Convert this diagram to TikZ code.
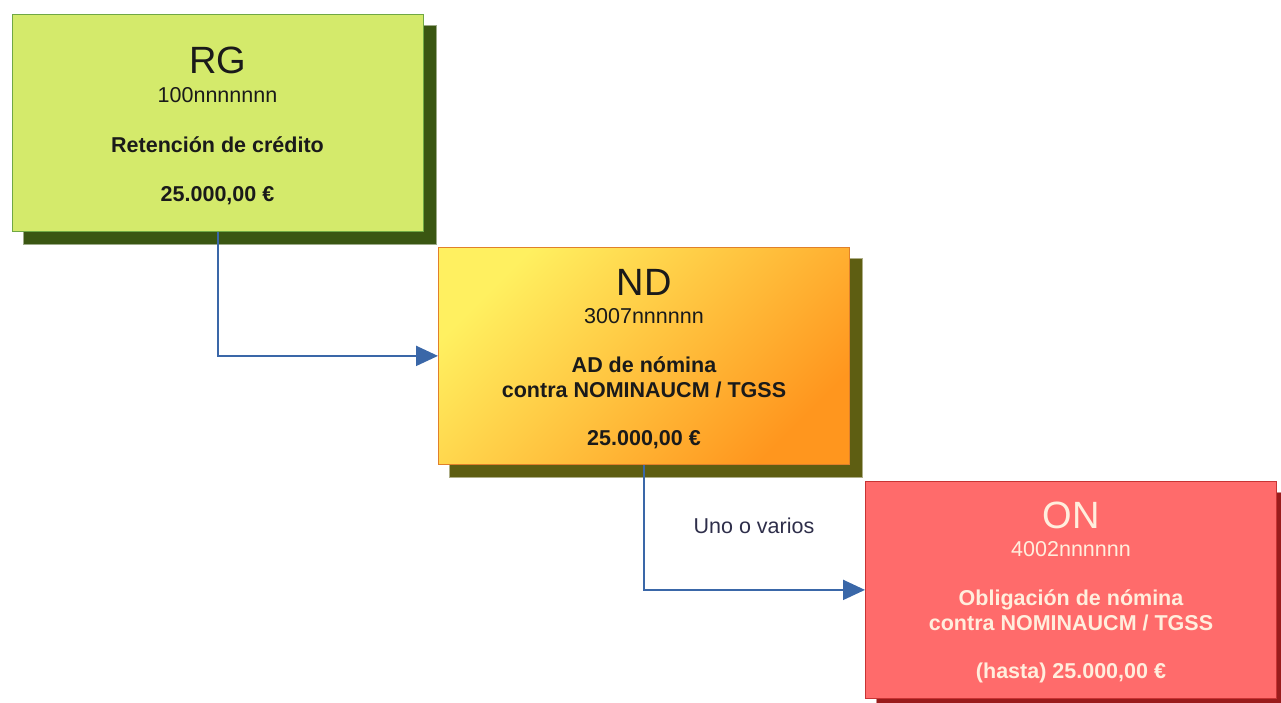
\documentclass[tikz,border=0pt]{standalone}
\usepackage{fontspec}
\setmainfont{Liberation Sans}
\usetikzlibrary{arrows.meta,calc}
\definecolor{rgfill}{HTML}{D4EA6B}
\definecolor{rgline}{HTML}{6FA844}
\definecolor{rgshadow}{HTML}{3A5612}
\definecolor{ndtop}{HTML}{FFF060}
\definecolor{ndbot}{HTML}{FF961E}
\definecolor{ndline}{HTML}{E0802A}
\definecolor{ndshadow}{HTML}{5E5E12}
\definecolor{onfill}{HTML}{FF6B6B}
\definecolor{online}{HTML}{C83434}
\definecolor{onshadow}{HTML}{9A1C1C}
\definecolor{ontext}{HTML}{FFEEDD}
\definecolor{dtext}{HTML}{1A1A1A}
\definecolor{flowc}{HTML}{3A67A8}
\definecolor{lbltext}{HTML}{2E2E4A}
\tikzset{
  boxnode/.style={rectangle, minimum width=411pt, minimum height=217pt, anchor=north west, inner sep=0pt, line width=0.8pt},
  titletxt/.style={anchor=base, inner sep=0pt, font=\fontsize{38}{40}\selectfont},
  smalltxt/.style={anchor=base, inner sep=0pt, font=\fontsize{21.5}{24}\selectfont},
  boldtxt/.style={anchor=base, inner sep=0pt, font=\fontsize{21.5}{24}\selectfont\bfseries},
  flow/.style={draw=flowc, line width=2pt, -{Triangle[length=22pt,width=20pt]}},
}
\newcommand{\softshadow}[2]{%
  \fill[#2, opacity=0.5] ($(#1.north west)+(11,11)$) rectangle ($(#1.south east)+(13.5,13.5)$);
  \fill[#2] ($(#1.north west)+(12,12)$) rectangle ($(#1.south east)+(12,12)$);
}
\begin{document}
\begin{tikzpicture}[x=1pt,y=-1pt]
\useasboundingbox (0,0) rectangle (1281,703);
% shadows
\coordinate (rgnw) at (12,14);
\coordinate (ndnw) at (438,247);
\coordinate (onnw) at (865,481);
\path (rgnw) node[boxnode] (rgs) {};
\path (ndnw) node[boxnode] (nds) {};
\path (onnw) node[boxnode] (ons) {};
\softshadow{rgs}{rgshadow}
\softshadow{nds}{ndshadow}
\softshadow{ons}{onshadow}
% boxes
\node[boxnode, fill=rgfill, draw=rgline] (rg) at (rgnw) {};
\node[boxnode, left color=ndtop, right color=ndbot, shading angle=45, draw=ndline] (nd) at (ndnw) {};
\node[boxnode, fill=onfill, draw=online] (on) at (onnw) {};
% RG text
\node[titletxt, text=dtext] (rgt) at (217.5,74) {RG};
\node[smalltxt, text=dtext] (rgn) at (217.5,103) {100nnnnnnn};
\node[boldtxt, text=dtext] (rgd) at (217.5,153) {Retención de crédito};
\node[boldtxt, text=dtext] (rga) at (217.5,202) {25.000,00 €};
% ND text
\node[titletxt, text=dtext] (ndt) at (644,295) {ND};
\node[smalltxt, text=dtext] (ndn) at (644,323) {3007nnnnnn};
\node[boldtxt, text=dtext] (ndd1) at (644,372) {AD de nómina};
\node[boldtxt, text=dtext] (ndd2) at (644,397) {contra NOMINAUCM / TGSS};
\node[boldtxt, text=dtext] (nda) at (644,445) {25.000,00 €};
% ON text
\node[titletxt, text=ontext] (ont) at (1071,528) {ON};
\node[smalltxt, text=ontext] (onn) at (1071,556) {4002nnnnnn};
\node[boldtxt, text=ontext] (ond1) at (1071,605) {Obligación de nómina};
\node[boldtxt, text=ontext] (ond2) at (1071,630) {contra NOMINAUCM / TGSS};
\node[boldtxt, text=ontext] (ona) at (1071,678) {(hasta) 25.000,00 €};
% connectors
\draw[flow] (rg.south) |- (nd.west);
\draw[flow] (nd.south) |- (on.west);
\node[smalltxt, text=lbltext] (lbl) at (754,533) {Uno o varios};
\end{tikzpicture}
\end{document}
